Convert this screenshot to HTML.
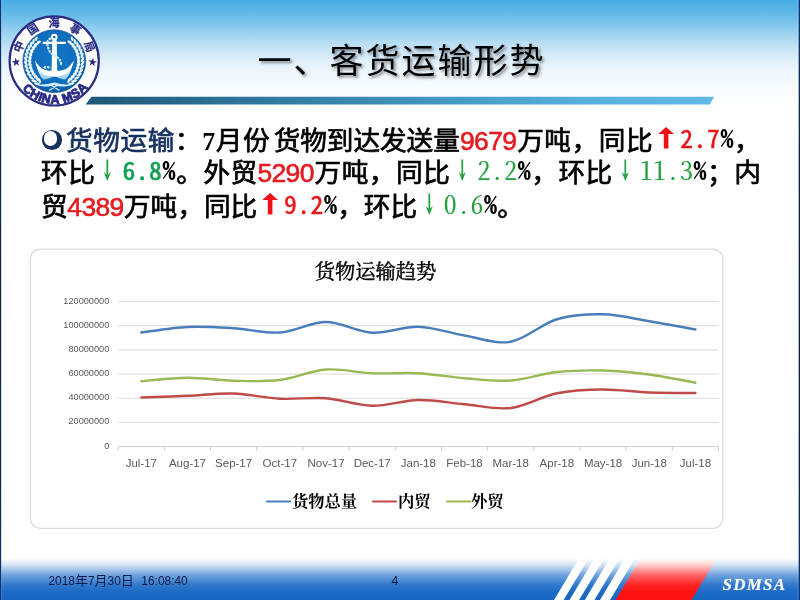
<!DOCTYPE html>
<html lang="zh-CN">
<head>
<meta charset="utf-8">
<title>一、客货运输形势</title>
<style>
html,body{margin:0;padding:0;}
body{width:800px;height:600px;overflow:hidden;background:#fff;position:relative;font-family:"Liberation Sans","Noto Sans CJK SC",sans-serif;}
#hdr{position:absolute;left:0;top:0;width:800px;height:112px;background:linear-gradient(to bottom,#48ade3 0px,#59b5e6 10px,#74c1ea 20px,#92ceef 30px,#b0dbf3 40px,#cae5f7 50px,#deeefa 60px,#ecf5fc 70px,#f4f9fd 80px,#fbfdfe 95px,#ffffff 108px);}
#ttl{position:absolute;left:1px;top:36px;width:801px;text-align:center;font-family:"Liberation Sans","Noto Sans CJK SC",sans-serif;font-weight:400;font-size:34px;letter-spacing:2px;line-height:50px;color:#000;text-shadow:2px 2px 3px rgba(0,0,0,.45);white-space:nowrap;}
.ln{position:absolute;left:41px;height:33px;line-height:33px;font-size:26.67px;font-weight:400;-webkit-text-stroke-width:.7px;color:#000;white-space:nowrap;font-family:"Liberation Sans","Noto Sans CJK SC",sans-serif;text-spacing-trim:space-all;font-kerning:none;}
.l1{letter-spacing:.52px;}
.l2{letter-spacing:.5px;}
.l3{letter-spacing:0;}
.ln span{vertical-align:baseline;}
.bl{color:#17305f;}
.sq{margin-left:3.5px;letter-spacing:-.08px;}
.bu{display:inline-block;width:24.6px;height:24px;position:relative;vertical-align:-4.4px !important;}
.l1 .bu,.l1 .sv,.l1 .n,.l1 .ar,.l1 .pc{margin-right:.52px;}
.l2 .n,.l2 .ar,.l2 .pc{margin-right:.5px;}
.l1 .n{margin-left:.6px;}
.bu:before{content:"";position:absolute;left:0.8px;top:0.1px;width:20.2px;height:19.6px;border-radius:50%;background:#17305f;}
.bu i{position:absolute;left:2.5px;top:1.4px;width:13.9px;height:14.6px;border-radius:50%;background:#fff;}
.sv{display:inline-block;width:13.33px;text-align:center;letter-spacing:0;-webkit-text-stroke-width:0;font-family:"Liberation Serif",serif;font-weight:700;font-size:26px;}
.hw{position:relative;top:-1.7px;font-size:25.6px;letter-spacing:.53px;font-feature-settings:"hwid";font-family:"Noto Sans CJK SC","Liberation Sans",sans-serif;-webkit-text-stroke-width:0;}
.rh{color:#ea1419;font-weight:400;-webkit-text-stroke-width:.45px;}
.gh{color:#12a055;font-weight:400;-webkit-text-stroke-width:.65px;}
.gs{color:#22a03e;font-weight:400;font-family:"Noto Serif CJK SC","Liberation Serif",serif;-webkit-text-stroke-width:.2px;}
.pc{display:inline-block;width:13.33px;text-align:center;font-weight:700;color:#000;letter-spacing:0;font-size:26px;}
.n{display:inline-block;width:56.3px;text-align:center;color:#e51a1f;font-family:"Liberation Sans",sans-serif;font-weight:400;font-size:26.5px;letter-spacing:-.65px;-webkit-text-stroke-width:.6px;text-indent:-.6px;}
.ar{display:inline-block;width:26.67px;height:33px;vertical-align:top !important;letter-spacing:0;}
.ar svg{display:inline-block;vertical-align:top;margin-left:-.17px;}
.lc{font-family:"Liberation Sans","Noto Sans CJK SC",sans-serif;font-weight:700;font-size:10.9px;fill:#2a2c84;stroke:#2a2c84;stroke-width:.25;}
.le{font-family:"Liberation Sans",sans-serif;font-weight:700;font-size:12.4px;fill:#2a2c84;stroke:#2a2c84;stroke-width:.9;}
#chart{position:absolute;left:0;top:0;}
.yl{font-family:"Liberation Sans",sans-serif;font-size:9.2px;fill:#595959;}
.xl{font-family:"Liberation Sans",sans-serif;font-size:11.5px;fill:#595959;}
.lg{font-family:"Liberation Serif","Noto Serif CJK SC",serif;font-weight:700;font-size:16.3px;fill:#000;}
.ct{font-family:"Liberation Serif","Noto Serif CJK SC",serif;font-weight:400;font-size:20.3px;fill:#000;stroke:#000;stroke-width:.45px;}
#ftr{position:absolute;left:0;top:550px;}
#dt{position:absolute;left:48.5px;top:572.4px;word-spacing:-0.8px;font-size:11.9px;line-height:18px;color:#0c1a4a;white-space:pre;font-family:"Liberation Sans","Noto Sans CJK SC",sans-serif;}
#dt b{font-weight:400;font-size:13px;}
#pg{position:absolute;left:390px;top:572.3px;width:10px;text-align:center;font-size:12.2px;line-height:18px;color:#0c1a4a;}
#sd{position:absolute;left:722.5px;top:574.5px;font-family:"Liberation Serif",serif;font-weight:700;font-style:italic;font-size:17px;line-height:20px;letter-spacing:1.25px;color:#fff;text-shadow:0 0 1px rgba(255,255,255,.5);}
</style>
</head>
<body>
<div id="hdr"></div>
<svg id="bar" width="800" height="112" style="position:absolute;left:0;top:0">
<defs><linearGradient id="bg" x1="0" y1="0" x2="1" y2="0"><stop offset="0" stop-color="#1d5777"/><stop offset=".5" stop-color="#3f90ba"/><stop offset=".8" stop-color="#58b0df"/><stop offset="1" stop-color="#62b9e8"/></linearGradient></defs>
<polygon points="91.5,96.8 714.2,96.8 709.6,104.6 85.6,104.6" fill="url(#bg)"/>
</svg>
<svg id="logo" width="112" height="112" viewBox="0 0 112 112" style="position:absolute;left:0;top:0">
<defs><radialGradient id="lg1" cx="0.5" cy="0.45" r="0.55"><stop offset="0" stop-color="#1377c6"/><stop offset=".8" stop-color="#0f6cbb"/><stop offset="1" stop-color="#0b559c"/></radialGradient><linearGradient id="lg2" x1="0" y1="0" x2="0" y2="1"><stop offset="0" stop-color="#f4fbfe"/><stop offset="1" stop-color="#8ecbec"/></linearGradient></defs>
<circle cx="54.2" cy="60.9" r="44.6" fill="#fff" stroke="#2a2c84" stroke-width="2.2"/>
<circle cx="54.3" cy="61.2" r="31.4" fill="url(#lg1)" stroke="#1a5ca6" stroke-width="0.8"/>
<text x="20.45 30.56 48.75 68.81 83.87" y="53.14 35.59 26.70 29.50 43.04" rotate="-68 -34 0 34 68" class="lc">中国海事局</text>
<text x="21.92 29.08 37.38 41.00 50.47 59.88 63.87 74.20 81.66" y="89.36 95.84 100.29 101.86 103.77 103.36 102.91 98.97 94.03" rotate="42.6 29.7 20.8 11.9 -1.0 -9.9 -19.8 -33.2 -45.6" class="le" xml:space="preserve">CHINA MSA</text>
<polygon points="15.37,57.74 16.85,60.61 20.04,60.23 17.77,62.51 19.13,65.44 16.25,63.98 13.89,66.17 14.38,62.99 11.57,61.42 14.75,60.91" fill="#2a2c84"/>
<polygon points="93.23,57.74 93.85,60.91 97.03,61.42 94.22,62.99 94.71,66.17 92.35,63.98 89.47,65.44 90.83,62.51 88.56,60.23 91.75,60.61" fill="#2a2c84"/>
<g fill="#f1fafe"><ellipse cx="36.33" cy="38.82" rx="2.20" ry="1.20" transform="rotate(-68.0 36.33 38.82)"/><ellipse cx="38.90" cy="41.89" rx="2.20" ry="1.20" transform="rotate(-12.0 38.90 41.89)"/><ellipse cx="33.43" cy="41.53" rx="2.90" ry="1.20" transform="rotate(-76.0 33.43 41.53)"/><ellipse cx="36.40" cy="44.20" rx="2.90" ry="1.20" transform="rotate(-20.0 36.40 44.20)"/><ellipse cx="30.93" cy="44.60" rx="2.90" ry="1.20" transform="rotate(-84.0 30.93 44.60)"/><ellipse cx="34.25" cy="46.84" rx="2.90" ry="1.20" transform="rotate(-28.0 34.25 46.84)"/><ellipse cx="28.89" cy="48.00" rx="2.90" ry="1.20" transform="rotate(-92.0 28.89 48.00)"/><ellipse cx="32.49" cy="49.75" rx="2.90" ry="1.20" transform="rotate(-36.0 32.49 49.75)"/><ellipse cx="27.34" cy="51.65" rx="2.90" ry="1.20" transform="rotate(-100.0 27.34 51.65)"/><ellipse cx="31.15" cy="52.88" rx="2.90" ry="1.20" transform="rotate(-44.0 31.15 52.88)"/><ellipse cx="26.32" cy="55.48" rx="2.90" ry="1.20" transform="rotate(-108.0 26.32 55.48)"/><ellipse cx="30.26" cy="56.17" rx="2.90" ry="1.20" transform="rotate(-52.0 30.26 56.17)"/><ellipse cx="25.83" cy="59.41" rx="2.90" ry="1.20" transform="rotate(-116.0 25.83 59.41)"/><ellipse cx="29.83" cy="59.55" rx="2.90" ry="1.20" transform="rotate(-60.0 29.83 59.55)"/><ellipse cx="25.90" cy="63.37" rx="2.90" ry="1.20" transform="rotate(-124.0 25.90 63.37)"/><ellipse cx="29.88" cy="62.95" rx="2.90" ry="1.20" transform="rotate(-68.0 29.88 62.95)"/><ellipse cx="26.52" cy="67.29" rx="2.90" ry="1.20" transform="rotate(-132.0 26.52 67.29)"/><ellipse cx="30.40" cy="66.32" rx="2.90" ry="1.20" transform="rotate(-76.0 30.40 66.32)"/><ellipse cx="27.68" cy="71.08" rx="2.90" ry="1.20" transform="rotate(-140.0 27.68 71.08)"/><ellipse cx="31.39" cy="69.58" rx="2.90" ry="1.20" transform="rotate(-84.0 31.39 69.58)"/><ellipse cx="29.35" cy="74.67" rx="2.90" ry="1.20" transform="rotate(-148.0 29.35 74.67)"/><ellipse cx="32.82" cy="72.67" rx="2.90" ry="1.20" transform="rotate(-92.0 32.82 72.67)"/><ellipse cx="31.51" cy="77.99" rx="2.90" ry="1.20" transform="rotate(-156.0 31.51 77.99)"/><ellipse cx="34.66" cy="75.53" rx="2.90" ry="1.20" transform="rotate(-100.0 34.66 75.53)"/><ellipse cx="34.11" cy="80.98" rx="2.90" ry="1.20" transform="rotate(-164.0 34.11 80.98)"/><ellipse cx="36.89" cy="78.10" rx="2.90" ry="1.20" transform="rotate(-108.0 36.89 78.10)"/><ellipse cx="37.10" cy="83.58" rx="2.90" ry="1.20" transform="rotate(-172.0 37.10 83.58)"/><ellipse cx="39.45" cy="80.35" rx="2.90" ry="1.20" transform="rotate(-116.0 39.45 80.35)"/><ellipse cx="72.07" cy="38.82" rx="2.20" ry="1.20" transform="rotate(-112.0 72.07 38.82)"/><ellipse cx="69.50" cy="41.89" rx="2.20" ry="1.20" transform="rotate(-168.0 69.50 41.89)"/><ellipse cx="74.97" cy="41.53" rx="2.90" ry="1.20" transform="rotate(-104.0 74.97 41.53)"/><ellipse cx="72.00" cy="44.20" rx="2.90" ry="1.20" transform="rotate(-160.0 72.00 44.20)"/><ellipse cx="77.47" cy="44.60" rx="2.90" ry="1.20" transform="rotate(-96.0 77.47 44.60)"/><ellipse cx="74.15" cy="46.84" rx="2.90" ry="1.20" transform="rotate(-152.0 74.15 46.84)"/><ellipse cx="79.51" cy="48.00" rx="2.90" ry="1.20" transform="rotate(-88.0 79.51 48.00)"/><ellipse cx="75.91" cy="49.75" rx="2.90" ry="1.20" transform="rotate(-144.0 75.91 49.75)"/><ellipse cx="81.06" cy="51.65" rx="2.90" ry="1.20" transform="rotate(-80.0 81.06 51.65)"/><ellipse cx="77.25" cy="52.88" rx="2.90" ry="1.20" transform="rotate(-136.0 77.25 52.88)"/><ellipse cx="82.08" cy="55.48" rx="2.90" ry="1.20" transform="rotate(-72.0 82.08 55.48)"/><ellipse cx="78.14" cy="56.17" rx="2.90" ry="1.20" transform="rotate(-128.0 78.14 56.17)"/><ellipse cx="82.57" cy="59.41" rx="2.90" ry="1.20" transform="rotate(-64.0 82.57 59.41)"/><ellipse cx="78.57" cy="59.55" rx="2.90" ry="1.20" transform="rotate(-120.0 78.57 59.55)"/><ellipse cx="82.50" cy="63.37" rx="2.90" ry="1.20" transform="rotate(-56.0 82.50 63.37)"/><ellipse cx="78.52" cy="62.95" rx="2.90" ry="1.20" transform="rotate(-112.0 78.52 62.95)"/><ellipse cx="81.88" cy="67.29" rx="2.90" ry="1.20" transform="rotate(-48.0 81.88 67.29)"/><ellipse cx="78.00" cy="66.32" rx="2.90" ry="1.20" transform="rotate(-104.0 78.00 66.32)"/><ellipse cx="80.72" cy="71.08" rx="2.90" ry="1.20" transform="rotate(-40.0 80.72 71.08)"/><ellipse cx="77.01" cy="69.58" rx="2.90" ry="1.20" transform="rotate(-96.0 77.01 69.58)"/><ellipse cx="79.05" cy="74.67" rx="2.90" ry="1.20" transform="rotate(-32.0 79.05 74.67)"/><ellipse cx="75.58" cy="72.67" rx="2.90" ry="1.20" transform="rotate(-88.0 75.58 72.67)"/><ellipse cx="76.89" cy="77.99" rx="2.90" ry="1.20" transform="rotate(-24.0 76.89 77.99)"/><ellipse cx="73.74" cy="75.53" rx="2.90" ry="1.20" transform="rotate(-80.0 73.74 75.53)"/><ellipse cx="74.29" cy="80.98" rx="2.90" ry="1.20" transform="rotate(-16.0 74.29 80.98)"/><ellipse cx="71.51" cy="78.10" rx="2.90" ry="1.20" transform="rotate(-72.0 71.51 78.10)"/><ellipse cx="71.30" cy="83.58" rx="2.90" ry="1.20" transform="rotate(-8.0 71.30 83.58)"/><ellipse cx="68.95" cy="80.35" rx="2.90" ry="1.20" transform="rotate(-64.0 68.95 80.35)"/></g>
<path d="M33.5 83.2 C40 85.6 47 84.6 54.2 82.6 C61.5 84.6 68.5 85.6 75 83.2 C68.5 87.6 61 87 54.2 84.9 C47.5 87 40 87.6 33.5 83.2Z" fill="#d3eefa"/>
<path d="M49.5 90.2 L58.6 84.4 M59 90.2 L49.9 84.4" stroke="#d3eefa" stroke-width="1.3" fill="none" stroke-linecap="round"/>
<path d="M36.8 66.5 C38.5 73.5 41.5 78.4 44 79.6 C47.5 79.3 51.5 77.6 54.4 75.6 C57.3 77.6 61.3 79.3 64.8 79.6 C67.3 78.4 70.3 73.5 72 66.5 C66 73 60 74.6 54.4 74.6 C48.8 74.6 42.8 73 36.8 66.5Z" fill="url(#lg2)"/>
<path d="M35.0 60.4 C35.4 64 36.8 67.5 38.9 70.3 C41.6 73.8 47 76.7 54.4 76.7 C61.8 76.7 67.2 73.8 69.9 70.3 C72 67.5 73.4 64 73.8 60.4 C71 65 67.4 68.4 64.6 69.6 C62 70.8 59.5 71 57.2 70.4 L56.8 44 H52.2 L51.6 70.4 C49.3 71 46.8 70.8 44.2 69.6 C41.4 68.4 37.8 65 35.0 60.4 Z" fill="#fff"/>
<rect x="42.6" y="41.8" width="23.2" height="2.1" rx="0.6" fill="#fff"/>
<rect x="52.4" y="39" width="4.2" height="6" fill="#fff"/>
<circle cx="54.3" cy="37" r="2.3" fill="none" stroke="#fff" stroke-width="1.9"/>
<path d="M51 38.4 C47.6 39.6 46.8 42 47.6 45.2 C48.2 48.6 49.2 51.6 51.6 53.6 C54.4 55.6 58.2 57.4 59.8 60 C61 62 61.4 64 60.6 65.6" fill="none" stroke="#cfeaf8" stroke-width="2.2" stroke-dasharray="2.6 0.8"/>
<path d="M43.6 68 C45.6 66.6 48.4 66.8 50.6 68.2" fill="none" stroke="#cfeaf8" stroke-width="2.1" stroke-dasharray="2.6 0.8"/>
</svg>
<div id="ttl">一、客货运输形势</div>
<div class="ln l1" style="top:121.6px"><span class="bu"><i></i></span><span class="bl">货物运输</span>：<span class="sv">7</span>月份<span class="sq">货物到达发送量</span><span class="n">9679</span>万吨，同比<span class="ar"><svg width="27" height="33" viewBox="0 0 27 33" role="img" aria-label="↑"><path d="M13.1 4.9 L21.0 12.1 H15.4 V26.5 H10.8 V12.1 H5.2 Z" fill="#ee1216"/></svg></span><span class="hw rh">2.7</span><span class="hw pc">%</span>，</div>
<div class="ln l2" style="top:154.1px">环比<span class="ar"><svg width="27" height="33" viewBox="0 0 27 33" role="img" aria-label="↓"><path d="M11.45 5.6 H13.15 V20.4 L15.9 18.0 L12.3 27.1 L8.7 18.0 L11.45 20.4 Z" fill="#22a03e"/></svg></span><span class="hw gh">6.8</span><span class="hw pc">%</span>。外贸<span class="n">5290</span>万吨，同比<span class="ar"><svg width="27" height="33" viewBox="0 0 27 33" role="img" aria-label="↓"><path d="M11.45 5.6 H13.15 V20.4 L15.9 18.0 L12.3 27.1 L8.7 18.0 L11.45 20.4 Z" fill="#22a03e"/></svg></span><span class="hw gs">2.2</span><span class="hw pc">%</span>，环比<span class="ar"><svg width="27" height="33" viewBox="0 0 27 33" role="img" aria-label="↓"><path d="M11.45 5.6 H13.15 V20.4 L15.9 18.0 L12.3 27.1 L8.7 18.0 L11.45 20.4 Z" fill="#22a03e"/></svg></span><span class="hw gs">11.3</span><span class="hw pc">%</span>；内</div>
<div class="ln l3" style="top:187.5px">贸<span class="n">4389</span>万吨，同比<span class="ar"><svg width="27" height="33" viewBox="0 0 27 33" role="img" aria-label="↑"><path d="M13.1 4.9 L21.0 12.1 H15.4 V26.5 H10.8 V12.1 H5.2 Z" fill="#ee1216"/></svg></span><span class="hw rh">9.2</span><span class="hw pc">%</span>，环比<span class="ar"><svg width="27" height="33" viewBox="0 0 27 33" role="img" aria-label="↓"><path d="M11.45 5.6 H13.15 V20.4 L15.9 18.0 L12.3 27.1 L8.7 18.0 L11.45 20.4 Z" fill="#22a03e"/></svg></span><span class="hw gs">0.6</span><span class="hw pc">%</span>。</div>
<svg id="chart" width="800" height="600" viewBox="0 0 800 600">
<rect x="30.4" y="249.1" width="692.5" height="279.3" rx="10" ry="10" fill="#fff" stroke="#dbdbdb" stroke-width="1.2"/>
<line x1="118.2" y1="301.50" x2="718.5" y2="301.50" stroke="#d9d9d9" stroke-width="1"/>
<line x1="118.2" y1="325.68" x2="718.5" y2="325.68" stroke="#d9d9d9" stroke-width="1"/>
<line x1="118.2" y1="349.87" x2="718.5" y2="349.87" stroke="#d9d9d9" stroke-width="1"/>
<line x1="118.2" y1="374.05" x2="718.5" y2="374.05" stroke="#d9d9d9" stroke-width="1"/>
<line x1="118.2" y1="398.23" x2="718.5" y2="398.23" stroke="#d9d9d9" stroke-width="1"/>
<line x1="118.2" y1="422.42" x2="718.5" y2="422.42" stroke="#d9d9d9" stroke-width="1"/>
<line x1="118.2" y1="446.60" x2="718.5" y2="446.60" stroke="#cfcfcf" stroke-width="1"/>
<line x1="118.20" y1="446.60" x2="118.20" y2="450.60" stroke="#cfcfcf" stroke-width="1"/>
<line x1="164.38" y1="446.60" x2="164.38" y2="450.60" stroke="#cfcfcf" stroke-width="1"/>
<line x1="210.55" y1="446.60" x2="210.55" y2="450.60" stroke="#cfcfcf" stroke-width="1"/>
<line x1="256.73" y1="446.60" x2="256.73" y2="450.60" stroke="#cfcfcf" stroke-width="1"/>
<line x1="302.91" y1="446.60" x2="302.91" y2="450.60" stroke="#cfcfcf" stroke-width="1"/>
<line x1="349.08" y1="446.60" x2="349.08" y2="450.60" stroke="#cfcfcf" stroke-width="1"/>
<line x1="395.26" y1="446.60" x2="395.26" y2="450.60" stroke="#cfcfcf" stroke-width="1"/>
<line x1="441.44" y1="446.60" x2="441.44" y2="450.60" stroke="#cfcfcf" stroke-width="1"/>
<line x1="487.62" y1="446.60" x2="487.62" y2="450.60" stroke="#cfcfcf" stroke-width="1"/>
<line x1="533.79" y1="446.60" x2="533.79" y2="450.60" stroke="#cfcfcf" stroke-width="1"/>
<line x1="579.97" y1="446.60" x2="579.97" y2="450.60" stroke="#cfcfcf" stroke-width="1"/>
<line x1="626.15" y1="446.60" x2="626.15" y2="450.60" stroke="#cfcfcf" stroke-width="1"/>
<line x1="672.32" y1="446.60" x2="672.32" y2="450.60" stroke="#cfcfcf" stroke-width="1"/>
<line x1="718.50" y1="446.60" x2="718.50" y2="450.60" stroke="#cfcfcf" stroke-width="1"/>
<text x="109.3" y="303.50" text-anchor="end" class="yl">120000000</text>
<text x="109.3" y="327.68" text-anchor="end" class="yl">100000000</text>
<text x="109.3" y="351.87" text-anchor="end" class="yl">80000000</text>
<text x="109.3" y="376.05" text-anchor="end" class="yl">60000000</text>
<text x="109.3" y="400.23" text-anchor="end" class="yl">40000000</text>
<text x="109.3" y="424.42" text-anchor="end" class="yl">20000000</text>
<text x="109.3" y="448.60" text-anchor="end" class="yl">0</text>
<text x="141.29" y="467.2" text-anchor="middle" class="xl">Jul-17</text>
<text x="187.47" y="467.2" text-anchor="middle" class="xl">Aug-17</text>
<text x="233.64" y="467.2" text-anchor="middle" class="xl">Sep-17</text>
<text x="279.82" y="467.2" text-anchor="middle" class="xl">Oct-17</text>
<text x="326.00" y="467.2" text-anchor="middle" class="xl">Nov-17</text>
<text x="372.17" y="467.2" text-anchor="middle" class="xl">Dec-17</text>
<text x="418.35" y="467.2" text-anchor="middle" class="xl">Jan-18</text>
<text x="464.53" y="467.2" text-anchor="middle" class="xl">Feb-18</text>
<text x="510.70" y="467.2" text-anchor="middle" class="xl">Mar-18</text>
<text x="556.88" y="467.2" text-anchor="middle" class="xl">Apr-18</text>
<text x="603.06" y="467.2" text-anchor="middle" class="xl">May-18</text>
<text x="649.23" y="467.2" text-anchor="middle" class="xl">Jun-18</text>
<text x="695.41" y="467.2" text-anchor="middle" class="xl">Jul-18</text>
<path d="M141.29 332.50 C148.98 331.58 172.07 327.71 187.47 327.00 C202.86 326.29 218.25 327.33 233.64 328.25 C249.03 329.17 264.43 333.54 279.82 332.50 C295.21 331.46 310.60 321.96 326.00 322.00 C341.39 322.04 356.78 331.96 372.17 332.75 C387.57 333.54 402.96 326.29 418.35 326.75 C433.74 327.21 449.13 333.00 464.53 335.50 C479.92 338.00 495.31 344.46 510.70 341.75 C526.10 339.04 541.49 323.83 556.88 319.25 C572.27 314.67 587.67 313.92 603.06 314.25 C618.45 314.58 633.84 318.71 649.23 321.25 C664.63 323.79 687.72 328.12 695.41 329.50" fill="none" stroke="#4a7ebb" stroke-width="2.4" stroke-linecap="round"/>
<path d="M141.29 397.50 C148.98 397.21 172.07 396.42 187.47 395.75 C202.86 395.08 218.25 393.00 233.64 393.50 C249.03 394.00 264.43 397.96 279.82 398.75 C295.21 399.54 310.60 397.08 326.00 398.25 C341.39 399.42 356.78 405.46 372.17 405.75 C387.57 406.04 402.96 400.25 418.35 400.00 C433.74 399.75 449.13 402.92 464.53 404.25 C479.92 405.58 495.31 409.83 510.70 408.00 C526.10 406.17 541.49 396.33 556.88 393.25 C572.27 390.17 587.67 389.62 603.06 389.50 C618.45 389.38 633.84 391.92 649.23 392.50 C664.63 393.08 687.72 392.92 695.41 393.00" fill="none" stroke="#be4b48" stroke-width="2.4" stroke-linecap="round"/>
<path d="M141.29 381.25 C148.98 380.67 172.07 377.83 187.47 377.75 C202.86 377.67 218.25 380.38 233.64 380.75 C249.03 381.12 264.43 381.88 279.82 380.00 C295.21 378.12 310.60 370.62 326.00 369.50 C341.39 368.38 356.78 372.62 372.17 373.25 C387.57 373.88 402.96 372.42 418.35 373.25 C433.74 374.08 449.13 377.04 464.53 378.25 C479.92 379.46 495.31 381.54 510.70 380.50 C526.10 379.46 541.49 373.67 556.88 372.00 C572.27 370.33 587.67 370.08 603.06 370.50 C618.45 370.92 633.84 372.46 649.23 374.50 C664.63 376.54 687.72 381.38 695.41 382.75" fill="none" stroke="#98b954" stroke-width="2.4" stroke-linecap="round"/>
<line x1="267" y1="501.5" x2="290" y2="501.5" stroke="#4a7ebb" stroke-width="2.2" stroke-linecap="round"/>
<text x="292" y="507.3" class="lg">货物总量</text>
<line x1="373" y1="501.5" x2="396" y2="501.5" stroke="#be4b48" stroke-width="2.2" stroke-linecap="round"/>
<text x="398" y="507.3" class="lg">内贸</text>
<line x1="447" y1="501.5" x2="470" y2="501.5" stroke="#98b954" stroke-width="2.2" stroke-linecap="round"/>
<text x="471" y="507.3" class="lg">外贸</text>
<text x="375.5" y="279" text-anchor="middle" class="ct">货物运输趋势</text>
</svg>
<svg id="ftr" width="800" height="50" viewBox="0 550 800 50">
<defs>
<linearGradient id="fb" x1="0" y1="550" x2="0" y2="600" gradientUnits="userSpaceOnUse"><stop offset="0" stop-color="#2e7cd2"/><stop offset="1" stop-color="#1766c3"/></linearGradient>
<linearGradient id="fw" x1="0" y1="550" x2="0" y2="600" gradientUnits="userSpaceOnUse"><stop offset="0" stop-color="#fff" stop-opacity="1"/><stop offset=".17" stop-color="#fff" stop-opacity="1"/><stop offset=".3" stop-color="#fff" stop-opacity=".8"/><stop offset=".5" stop-color="#fff" stop-opacity=".35"/><stop offset=".7" stop-color="#fff" stop-opacity=".08"/><stop offset=".85" stop-color="#fff" stop-opacity="0"/></linearGradient>
</defs>
<rect x="0" y="550" width="800" height="50" fill="url(#fb)"/>
<g fill="#fff">
<polygon points="584,550 593.6,550 563.6,600 554,600"/>
<polygon points="599.5,550 609.1,550 579.1,600 569.5,600"/>
<polygon points="614.8,550 624.4,550 594.4,600 584.8,600"/>
<polygon points="630,550 640,550 610,600 600,600"/>
</g>
<polygon points="645.5,550 721.5,550 691.5,600 615.5,600" fill="#ff1212"/>
<rect x="0" y="550" width="800" height="50" fill="url(#fw)"/>
</svg>
<div id="dt">2018<b>年</b>7<b>月</b>30<b>日</b>   16:08:40</div>
<div id="pg">4</div>
<div id="sd">SDMSA</div>
<svg id="edges" width="800" height="600" viewBox="0 0 800 600" style="position:absolute;left:0;top:0">
<defs><linearGradient id="eg" x1="0" y1="0" x2="0" y2="1"><stop offset="0" stop-color="#0a3478"/><stop offset=".25" stop-color="#0f2747"/><stop offset=".5" stop-color="#10223a"/><stop offset=".8" stop-color="#0f2747"/><stop offset="1" stop-color="#0a3582"/></linearGradient></defs>
<rect x="0" y="0" width="1.2" height="600" fill="url(#eg)"/>
<rect x="1.2" y="0" width="1" height="600" fill="#fff" fill-opacity=".2"/>
<rect x="798.6" y="0" width="1.4" height="600" fill="url(#eg)"/>
<rect x="797.6" y="0" width="1" height="600" fill="#fff" fill-opacity=".2"/>
</svg>
</body>
</html>
